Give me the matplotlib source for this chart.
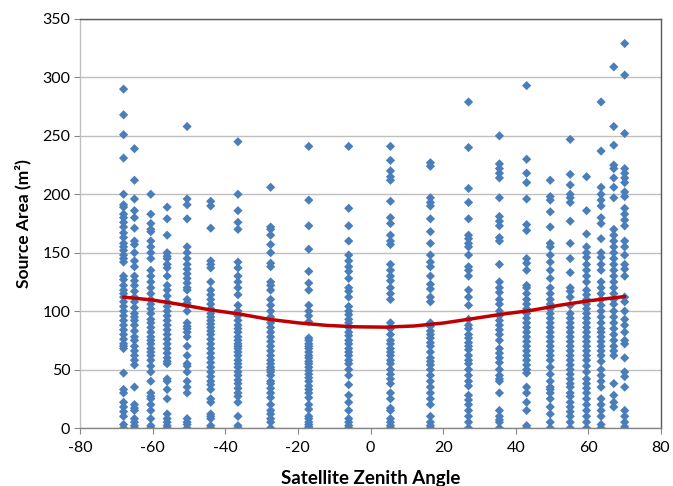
import matplotlib
matplotlib.use("Agg")
import matplotlib.pyplot as plt

# ---- data ----
col_angles = [-68, -65, -60.5, -56, -50.5, -44, -36.5, -27.5, -17, -6, 5.5,
              16.5, 27, 35.5, 43, 49.5, 55, 59.5, 63.5, 67, 70]

col_m68 = [290, 268, 251, 231, 200, 191, 189, 183, 180, 176, 172, 167, 163, 158, 155, 152, 148,
           145, 142, 130, 127, 122, 118, 115, 112, 108, 104, 100, 96, 92, 88, 84, 80, 76, 72, 70,
           68, 47, 33, 30, 22, 18, 14, 10, 3, 0]
col_m65 = [239, 212, 196, 186, 180, 171, 160, 157, 150, 143, 138, 130, 126, 122, 117, 112, 108,
           103, 98, 95, 92, 88, 83, 78, 75, 70, 66, 62, 58, 54, 35, 20, 17, 15, 8, 5, 2, 0]
col_m60 = [200, 183, 175, 170, 168, 160, 155, 150, 145, 135, 130, 125, 120, 115, 110, 106, 102,
           98, 93, 90, 86, 82, 78, 75, 72, 68, 65, 62, 58, 53, 48, 40, 30, 27, 25, 20, 15, 8, 2, 0]
col_m56 = [189, 179, 165, 150, 147, 145, 140, 137, 130, 122, 118, 113, 108, 104, 100, 96, 92,
           88, 84, 80, 76, 72, 68, 64, 60, 57, 55, 42, 40, 33, 25, 12, 8, 5, 2, 0]
col_m50 = [258, 196, 191, 179, 155, 150, 145, 140, 136, 132, 128, 124, 120, 118, 110, 107, 105,
           100, 90, 87, 85, 82, 78, 70, 62, 55, 53, 48, 40, 35, 30, 8, 5, 3, 0]
col_m44 = [194, 190, 171, 143, 140, 137, 125, 118, 114, 110, 106, 102, 98, 95, 92, 89, 86, 83,
           80, 76, 72, 68, 64, 60, 56, 52, 48, 44, 40, 37, 33, 25, 22, 12, 10, 8, 2, 0]
col_m36 = [245, 200, 186, 176, 170, 142, 137, 130, 125, 120, 114, 105, 100, 96, 92, 88, 85, 82,
           78, 75, 72, 70, 68, 65, 62, 58, 55, 52, 48, 45, 41, 38, 34, 30, 27, 22, 10, 2, 0]
col_m27 = [206, 172, 170, 165, 157, 150, 141, 138, 125, 122, 118, 110, 105, 100, 95, 90, 86, 82,
           78, 74, 70, 66, 62, 58, 55, 52, 50, 48, 45, 40, 38, 34, 30, 26, 20, 15, 12, 8, 5, 0]
col_m17 = [241, 195, 173, 153, 134, 124, 118, 105, 100, 96, 91, 77, 75, 72, 70, 68, 65, 62, 60,
           57, 55, 52, 49, 46, 43, 40, 36, 33, 30, 26, 20, 16, 10, 8, 5, 3, 1, 0]
col_m6 = [241, 188, 173, 160, 148, 143, 138, 134, 128, 120, 117, 112, 104, 100, 97, 93, 90, 86,
          82, 79, 75, 72, 68, 65, 62, 58, 55, 50, 45, 37, 28, 22, 15, 8, 5, 2, 0]
col_p5 = [241, 229, 220, 215, 212, 194, 180, 175, 165, 160, 157, 140, 135, 130, 126, 120, 115,
          110, 90, 85, 80, 75, 72, 68, 65, 62, 58, 55, 50, 46, 42, 38, 30, 25, 17, 15, 8, 5, 2, 0]
col_p16 = [227, 224, 197, 193, 190, 179, 168, 158, 148, 142, 138, 130, 123, 119, 112, 108, 90,
           87, 83, 80, 77, 73, 70, 65, 60, 57, 54, 50, 45, 40, 35, 30, 25, 20, 10, 5, 2, 0]
col_p27 = [279, 240, 205, 193, 179, 165, 162, 158, 155, 148, 138, 135, 130, 118, 112, 105, 93,
           88, 85, 80, 77, 73, 70, 67, 62, 58, 55, 50, 45, 40, 36, 28, 24, 20, 15, 10, 5, 0]
col_p35 = [250, 226, 222, 218, 214, 197, 181, 177, 173, 163, 160, 140, 125, 120, 116, 110, 106,
           100, 96, 92, 88, 84, 80, 75, 68, 64, 60, 56, 50, 45, 42, 40, 30, 15, 10, 7, 5, 0]
col_p43 = [293, 230, 218, 210, 196, 174, 169, 145, 141, 135, 122, 120, 115, 110, 106, 102, 98,
           94, 90, 86, 82, 78, 74, 70, 66, 62, 58, 54, 50, 47, 35, 30, 22, 15, 2, 0]
col_p49 = [212, 198, 195, 185, 172, 158, 155, 148, 142, 135, 128, 120, 115, 110, 106, 102, 98,
           94, 90, 86, 82, 78, 74, 70, 66, 62, 58, 52, 46, 40, 35, 33, 30, 25, 18, 12, 5, 0]
col_p55 = [247, 217, 208, 200, 197, 193, 177, 158, 145, 133, 120, 117, 112, 105, 98, 94, 90, 86,
           82, 78, 74, 70, 66, 62, 58, 54, 50, 46, 42, 38, 35, 30, 27, 22, 18, 14, 10, 5, 0]
col_p59 = [215, 186, 166, 155, 150, 146, 140, 135, 130, 125, 118, 114, 110, 106, 102, 98, 94,
           90, 86, 82, 78, 74, 70, 66, 62, 58, 53, 48, 42, 38, 34, 30, 25, 20, 15, 10, 5, 0]
col_p63 = [279, 237, 206, 200, 195, 190, 180, 175, 162, 150, 146, 140, 135, 125, 120, 115, 110,
           105, 100, 95, 90, 85, 82, 78, 74, 70, 66, 62, 57, 50, 45, 40, 35, 25, 20, 15, 10, 3, 0]
col_p67 = [309, 258, 242, 225, 222, 214, 206, 197, 170, 165, 160, 155, 150, 145, 140, 135, 130,
           125, 120, 115, 110, 106, 100, 95, 90, 85, 80, 75, 70, 66, 62, 38, 28, 22, 18]
col_p70 = [329, 302, 252, 222, 218, 214, 210, 202, 198, 188, 183, 178, 173, 160, 155, 148, 140,
           136, 130, 112, 108, 100, 93, 88, 82, 75, 72, 60, 48, 44, 35, 15, 10, 5, 1]

columns = [col_m68, col_m65, col_m60, col_m56, col_m50, col_m44, col_m36, col_m27, col_m17,
           col_m6, col_p5, col_p16, col_p27, col_p35, col_p43, col_p49, col_p55, col_p59,
           col_p63, col_p67, col_p70]

fit_x = [-68, -60, -52, -44, -36, -28, -20, -12, -4, 4, 12, 20, 28, 36, 44, 52, 60, 70]
fit_y = [112, 109.5, 105.5, 101, 97.5, 93, 90, 87.8, 86.6, 86.3, 87.3, 89.8, 93.5, 97.3,
         100.5, 105, 108.8, 112.5]

x_ticks = [-80, -60, -40, -20, 0, 20, 40, 60, 80]
y_ticks = [0, 50, 100, 150, 200, 250, 300, 350]

# ---- build points ----
xs, ys = [], []
for ang, vals in zip(col_angles, columns):
    xs.extend([ang] * len(vals))
    ys.extend(vals)

plt.rcParams['font.family'] = ['Lato', 'DejaVu Sans']
plt.rcParams['axes.unicode_minus'] = False

fig = plt.figure(figsize=(6.73, 4.86), dpi=100)
ax = fig.add_axes([80 / 673, 1 - 428 / 486, 581 / 673, 409 / 486])

ax.scatter(xs, ys, marker='D', s=22, color='#4A7EBB', edgecolors='none', zorder=3)
ax.plot(fit_x, fit_y, color='#C00000', lw=2.5, zorder=4, solid_capstyle='round')

ax.set_xlim(-80, 80)
ax.set_ylim(0, 350)
ax.set_xticks(x_ticks)
ax.set_yticks(y_ticks)
ax.tick_params(axis='both', labelsize=11.5, colors='#000000', length=4, width=0.8)
ax.tick_params(axis='x', color='#868686', pad=5)
ax.tick_params(axis='y', color='#868686', pad=3)
ax.yaxis.grid(True, color='#BFBFBF', lw=1)
ax.set_axisbelow(True)

ax.spines['left'].set_color('#BFBFBF')
ax.spines['bottom'].set_color('#868686')
ax.spines['top'].set_color('#595959')
ax.spines['right'].set_color('#595959')
for s in ax.spines.values():
    s.set_linewidth(1)

ax.set_xlabel('Satellite Zenith Angle', fontsize=13.5, fontweight='bold', labelpad=11)
ax.set_ylabel('Source Area (m²)', fontsize=12.5, fontweight='bold', labelpad=8)

fig.savefig('out.png', dpi=100)
